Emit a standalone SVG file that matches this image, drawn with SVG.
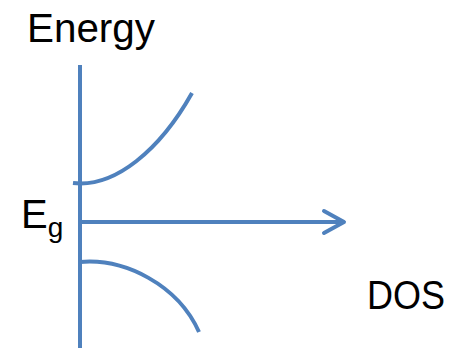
<svg xmlns="http://www.w3.org/2000/svg" width="466" height="348" viewBox="0 0 466 348">
<defs>
<style>
.ln{fill:none;stroke:#4F81BD;stroke-width:4}
.t{font-family:"Liberation Sans",Arial,sans-serif;fill:#000}
</style>
</defs>
<rect width="466" height="348" fill="#fff"/>
<g id="labels">
<text class="t" x="27" y="42" font-size="40" textLength="128" lengthAdjust="spacingAndGlyphs">Energy</text>
<text class="t" x="21" y="228" font-size="40">E<tspan font-size="28" dy="9">g</tspan></text>
<text class="t" x="367" y="309" font-size="40" textLength="78" lengthAdjust="spacingAndGlyphs">DOS</text>
</g>
<g id="connectors">
<line id="energy-axis" class="ln" x1="80" y1="65" x2="80" y2="348"/>
<path id="dos-axis" class="ln" d="M80,222 H343"/>
<path id="dos-arrowhead" class="ln" d="M324,211 L344,222 L324,233" stroke-linecap="round" stroke-linejoin="round"/>
<path id="conduction-band" class="ln" d="M73,183 C115,188 160,150 192,93"/>
<path id="valence-band" class="ln" d="M80,262 C125,258 178,285 199,332"/>
</g>
</svg>
